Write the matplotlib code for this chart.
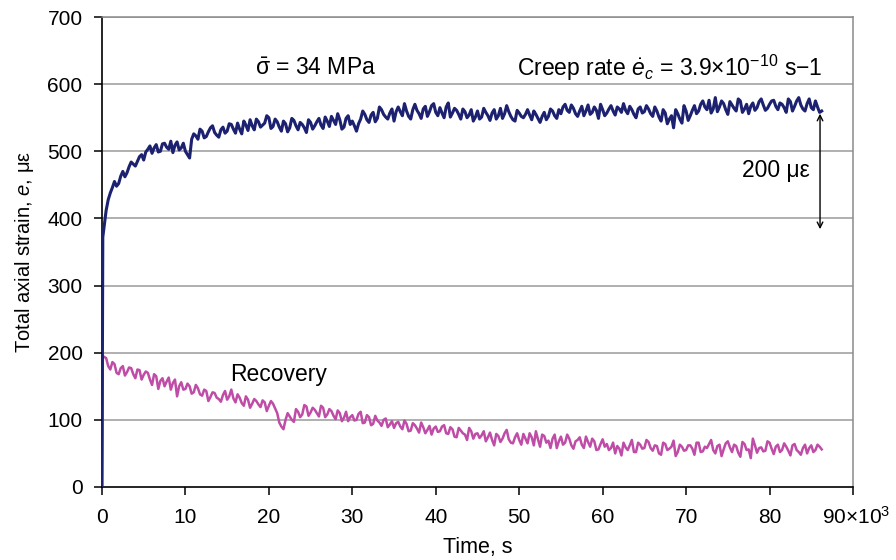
import numpy as np
import matplotlib
matplotlib.use('Agg')
import matplotlib.pyplot as plt
from matplotlib.transforms import blended_transform_factory

plt.rcParams['font.family'] = ['Liberation Sans', 'DejaVu Sans']
plt.rcParams['mathtext.fontset'] = 'custom'
plt.rcParams['mathtext.rm'] = 'Liberation Sans'
plt.rcParams['mathtext.it'] = 'Liberation Sans:italic'

# time grid, x10^3 s: readings every 0.5e3 s from 0.5, plus in-between readings 0.25e3 s later
t_step = 0.5
t_end = 86.0

# creep curve (total axial strain, microstrain)
creep = [
    412, 438, 455, 452, 470, 468, 484, 478, 492, 487,
    503, 497, 510, 500, 512, 503, 498, 514, 505, 500,
    490, 526, 518, 530, 522, 535, 528, 521, 536, 530,
    540, 527, 533, 545, 531, 538, 548, 536, 542, 550,
    537, 544, 530, 541, 535, 546, 532, 540, 528, 543,
    538, 549, 534, 545, 552, 540, 547, 536, 553, 545,
    530, 548, 555, 543, 558, 549, 562, 551, 557, 545,
    566, 553, 560, 548, 570, 556, 563, 552, 568, 558,
    565, 550, 572, 557, 561, 548, 559, 554, 545, 560,
    551, 558, 546, 562, 553, 549, 568, 552, 545, 557,
    550, 562, 547, 555, 543, 558, 552, 560, 549, 556,
    570, 558, 564, 552, 567, 560, 555, 566, 549, 562,
    557, 568, 554, 563, 571, 556, 562, 550, 566, 559,
    563, 552, 560, 545, 557, 548, 535, 556, 542, 560,
    553, 568, 560, 575, 562, 557, 580, 566, 571, 555,
    569, 560, 575, 563, 556, 572, 565, 578, 561, 570,
    576, 562, 570, 558, 574, 567, 580, 563, 571, 565,
    575, 558,
]
creep_mid = [
    428, 446, 448, 463, 462, 477, 481, 485, 495, 499,
    508, 505, 499, 511, 506, 515, 509, 502, 512, 495,
    518, 523, 533, 520, 529, 538, 524, 532, 527, 541,
    533, 542, 526, 539, 547, 532, 544, 539, 553, 534,
    548, 536, 545, 529, 549, 538, 543, 535, 547, 533,
    544, 539, 551, 537, 546, 556, 533, 549, 540, 538,
    541, 560, 547, 554, 544, 566, 555, 548, 563, 559,
    559, 571, 552, 562, 561, 549, 567, 559, 571, 553,
    557, 566, 551, 564, 555, 563, 550, 562, 551, 548,
    564, 553, 557, 548, 564, 556, 559, 547, 561, 552,
    555, 554, 560, 549, 552, 547, 563, 553, 562, 566,
    561, 569, 556, 560, 553, 569, 558, 561, 570, 553,
    563, 560, 566, 558, 561, 567, 555, 563, 557, 568,
    556, 566, 551, 562, 541, 553, 562, 548, 568, 546,
    561, 556, 570, 566, 576, 563, 559, 575, 562, 574,
    564, 578, 558, 570, 567, 561, 574, 569, 564, 575,
    567, 572, 565, 578, 560, 575, 569, 560, 578, 562,
    566, 560,
]

# recovery curve, same time grid
recovery = [
    192, 175, 183, 168, 180, 171, 177, 162, 174, 167,
    170, 152, 165, 158, 150, 163, 155, 135, 156, 146,
    150, 141, 147, 136, 143, 134, 140, 131, 137, 130,
    145, 126, 133, 121, 130, 124, 128, 119, 126, 121,
    124, 110, 90, 100, 105, 97, 112, 108, 120, 111,
    115, 105, 118, 108, 113, 101, 110, 103, 98, 107,
    100, 112, 96, 104, 94, 99, 91, 102, 93, 88,
    97, 86, 94, 84, 92, 81, 89, 85, 78, 90,
    83, 92, 79, 86, 74, 84, 78, 88, 72, 80,
    77, 68, 81, 62, 76, 72, 85, 66, 74, 70,
    79, 65, 74, 83, 60, 76, 69, 72, 58, 75,
    66, 72, 57, 70, 63, 75, 60, 68, 56, 71,
    64, 58, 50, 57, 66, 55, 70, 52, 63, 58,
    67, 54, 61, 48, 64, 57, 69, 52, 60, 55,
    62, 48, 66, 53, 58, 70, 50, 63, 56, 68,
    52, 61, 45, 64, 56, 72, 51, 59, 54, 66,
    49, 63, 55, 60, 47, 64, 52, 58, 50, 62,
    55, 60,
]
recovery_mid = [
    180, 186, 170, 177, 166, 178, 168, 175, 160, 172,
    160, 168, 146, 162, 157, 145, 160, 150, 145, 154,
    139, 152, 138, 145, 128, 141, 133, 127, 143, 135,
    132, 138, 125, 135, 118, 131, 123, 129, 113, 128,
    117, 96, 86, 110, 100, 116, 104, 122, 106, 118,
    110, 121, 104, 116, 106, 114, 98, 112, 104, 99,
    109, 95, 107, 92, 106, 96, 100, 89, 98, 95,
    90, 99, 83, 95, 87, 96, 80, 91, 87, 82,
    90, 80, 89, 75, 88, 80, 70, 83, 79, 73,
    83, 74, 70, 79, 67, 80, 71, 65, 80, 63,
    72, 80, 62, 71, 78, 66, 58, 78, 68, 63,
    78, 62, 68, 74, 58, 67, 72, 55, 64, 60,
    55, 66, 61, 47, 59, 62, 52, 66, 57, 70,
    58, 62, 50, 66, 55, 60, 46, 63, 54, 62,
    57, 66, 52, 60, 64, 55, 61, 46, 65, 59,
    63, 51, 67, 55, 43, 62, 58, 53, 68, 57,
    60, 52, 65, 54, 62, 55, 48, 63, 58, 52,
    63, 56,
]

# loading jump at t = 0
t_start = [0, 0.1]
creep_start = [0, 372]
recovery_start = [0, 195]

t_a = np.arange(t_step, t_end + 0.01, t_step)
t_b = t_a + t_step / 2
t = np.column_stack([t_a, t_b]).ravel()
y_creep = np.column_stack([creep, creep_mid]).ravel()
y_rec = np.column_stack([recovery, recovery_mid]).ravel()

t_all = np.concatenate([t_start, t])
y_creep = np.concatenate([creep_start, y_creep])
y_rec = np.concatenate([recovery_start, y_rec])

fig = plt.figure(figsize=(8.96, 5.6), dpi=100)
ax = fig.add_axes([0.1138, 0.1304, 0.8382, 0.8392])

# grid
for yv in range(100, 701, 100):
    ax.axhline(yv, color='#9a9a9a', lw=1.1, zorder=0)

ax.plot(t_all, y_rec, color='#bf4ca6', lw=1.8, zorder=2)
ax.plot(t_all, y_creep, color='#1c2170', lw=2.2, zorder=3)

ax.set_xlim(0, 90)
ax.set_ylim(0, 700)

ax.set_xticks(range(0, 91, 10))
ax.set_xticklabels([str(v) for v in range(0, 81, 10)] + [''])
ax.set_yticks(range(0, 701, 100))
ax.tick_params(axis='both', direction='out', length=6, width=1.1,
               labelsize=15, colors='black')
ax.tick_params(axis='y', pad=8)
ax.tick_params(axis='x', pad=9)

for s in ['left', 'bottom']:
    ax.spines[s].set_color('black')
    ax.spines[s].set_linewidth(1.2)
for s in ['right', 'top']:
    ax.spines[s].set_color('#8a8a8a')
    ax.spines[s].set_linewidth(1.1)

trans = blended_transform_factory(ax.transData, ax.transAxes)
ax.text(86.3, -0.079, '90\u00d710$^3$', transform=trans, ha='left', va='baseline', fontsize=15)

ax.set_xlabel('Time, s', fontsize=15.5, labelpad=7)
ax.set_ylabel('Total axial strain, $e$, \u03bc\u03b5', fontsize=14.5, labelpad=8)

ax.text(18.3, 624, '$\\bar{\\mathrm{\u03c3}}$ = 34 MPa', fontsize=16.5, va='center', ha='left')
ax.text(49.7, 624, 'Creep rate $\\dot{e}_c$ = 3.9$\\times$10$^{\\mathrm{-10}}$ s$-$1',
        fontsize=16.5, va='center', ha='left')
ax.text(80.8, 472, '200 \u03bc\u03b5', fontsize=16.5, va='center', ha='center')
ax.text(15.3, 167, 'Recovery', fontsize=16.5, va='center', ha='left')

ax.annotate('', xy=(86.05, 556), xytext=(86.05, 384),
            arrowprops=dict(arrowstyle='<->', color='black', lw=1.0,
                            shrinkA=0, shrinkB=0))

fig.savefig('out.png', dpi=100)
